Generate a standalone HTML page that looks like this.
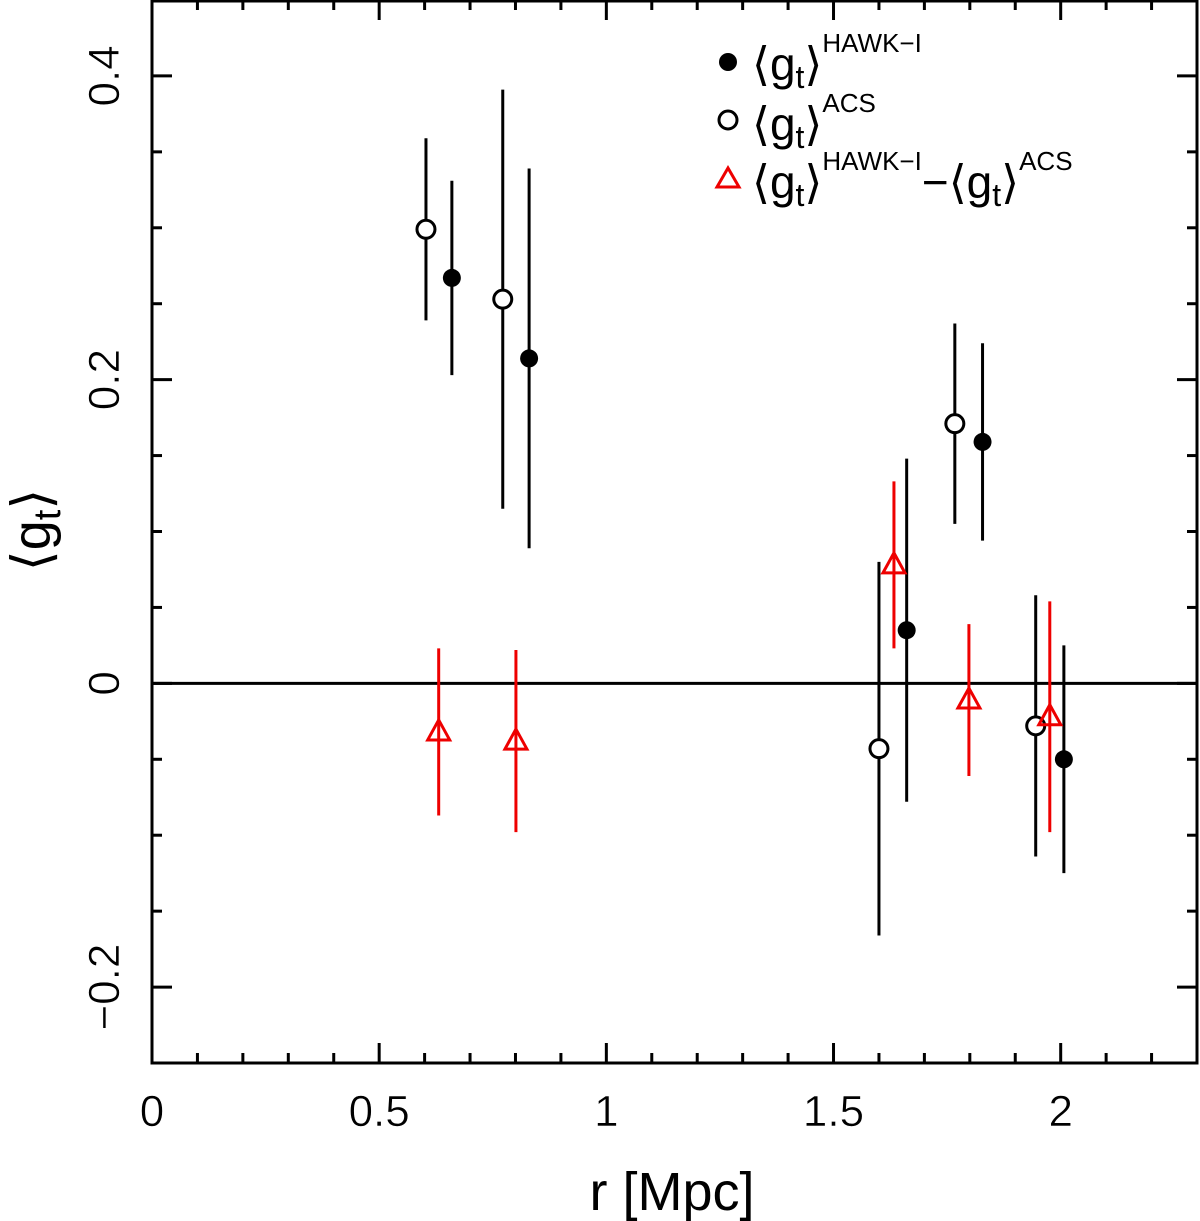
<!DOCTYPE html>
<html><head><meta charset="utf-8"><style>
html,body{margin:0;padding:0;background:#fff;}
svg{display:block;font-family:"Liberation Sans","DejaVu Sans",sans-serif;}
</style></head><body>
<svg id="chart" width="1200" height="1221" viewBox="0 0 1200 1221" xmlns="http://www.w3.org/2000/svg">
<g id="axes"></g>
<g id="marks"></g>
<g id="legend">
 <circle cx="728" cy="62" r="9" fill="#000"/>
 <text x="752" y="80" font-size="46">⟨g<tspan font-size="32" dy="8">t</tspan><tspan dy="-8">⟩</tspan><tspan font-size="26" dy="-28">HAWK−I</tspan></text>
 <circle cx="728" cy="120" r="9" fill="none" stroke="#000" stroke-width="3"/>
 <text x="752" y="140" font-size="46">⟨g<tspan font-size="32" dy="8">t</tspan><tspan dy="-8">⟩</tspan><tspan font-size="26" dy="-28">ACS</tspan></text>
 <polygon points="728,168 717,187 739,187" fill="none" stroke="#e00" stroke-width="3"/>
 <text x="752" y="198" font-size="46">⟨g<tspan font-size="32" dy="8">t</tspan><tspan dy="-8">⟩</tspan><tspan font-size="26" dy="-28">HAWK−I</tspan><tspan font-size="46" dy="28">−⟨g</tspan><tspan font-size="32" dy="8">t</tspan><tspan dy="-8">⟩</tspan><tspan font-size="26" dy="-28">ACS</tspan></text>
</g>
</svg>
<script>
const hawkR=[0.66,0.83,1.661,1.828,2.007];
const hawkG=[0.267,0.214,0.035,0.159,-0.050];
const hawkE=[0.064,0.125,0.113,0.065,0.075];
const acsR=[0.603,0.772,1.600,1.767,1.945];
const acsG=[0.299,0.253,-0.043,0.171,-0.028];
const acsE=[0.060,0.138,0.123,0.066,0.086];
const diffR=[0.631,0.801,1.633,1.798,1.976];
const diffG=[-0.032,-0.038,0.078,-0.011,-0.022];
const diffE=[0.055,0.060,0.055,0.050,0.076];
const xTicks=[0,0.5,1,1.5,2];
const xTickLabels=["0","0.5","1","1.5","2"];
const yTicks=[-0.2,0,0.2,0.4];
const yTickLabels=["−0.2","0","0.2","0.4"];

const L=152,R=1197,T=0,B=1063,xmin=0,xmax=2.3,ymin=-0.25,ymax=0.45;
const sx=v=>L+(v-xmin)/(xmax-xmin)*(R-L);
const sy=v=>B-(v-ymin)/(ymax-ymin)*(B-T);
const NS="http://www.w3.org/2000/svg";
function mk(parent,tag,attrs){const e=document.createElementNS(NS,tag);for(const k in attrs)e.setAttribute(k,attrs[k]);parent.appendChild(e);return e;}
const ax=document.getElementById('axes'), mg=document.getElementById('marks');

let fr=mk(ax,'rect',{x:L,y:T+1,width:R-L,height:B-T-1,fill:'none',stroke:'#000','stroke-width':3});


for(let i=0;i<=23;i++){const v=i/10,x=sx(v),len=(i%5===0)?20:10;
 mk(ax,'line',{x1:x,x2:x,y1:B,y2:B-len,stroke:'#000','stroke-width':3});
 mk(ax,'line',{x1:x,x2:x,y1:T,y2:T+len,stroke:'#000','stroke-width':3});}
for(let i=-5;i<=9;i++){const v=i*0.05,y=sy(v),len=(i%4===0)?20:10;
 mk(ax,'line',{x1:L,x2:L+len,y1:y,y2:y,stroke:'#000','stroke-width':3});
 mk(ax,'line',{x1:R,x2:R-len,y1:y,y2:y,stroke:'#000','stroke-width':3});}
xTicks.forEach((v,i)=>{const t=mk(ax,'text',{x:sx(v),y:1126,'font-size':44,'text-anchor':'middle',stroke:'#fff','stroke-width':0.6});t.textContent=xTickLabels[i];
 
 });
yTicks.forEach((v,i)=>{const t=mk(ax,'text',{x:0,y:0,'font-size':44,'text-anchor':'middle',stroke:'#fff','stroke-width':0.6,transform:`translate(119,${sy(v)}) rotate(-90)`});t.textContent=yTickLabels[i];
 
 });
let xt=mk(ax,'text',{x:672,y:1210,'font-size':54,'text-anchor':'middle','xml:space':'preserve'});xt.textContent='r  [Mpc]';


let yt=mk(ax,'text',{x:0,y:0,'font-size':54,'text-anchor':'middle',transform:'translate(50,530) rotate(-90)'});
yt.innerHTML='⟨g<tspan font-size="38" dy="10">t</tspan><tspan dy="-10">⟩</tspan>';


let zl=mk(ax,'line',{x1:L,x2:R,y1:sy(0),y2:sy(0),stroke:'#000','stroke-width':3});



function series(rs,gs,es,col,kind,name){
 rs.forEach((r,i)=>{const x=sx(r),y=sy(gs[i]);
  const eb=mk(mg,'line',{x1:x,x2:x,y1:sy(gs[i]+es[i]),y2:sy(gs[i]-es[i]),stroke:col,'stroke-width':3});
  
  
  let m;
  if(kind==='filled')m=mk(mg,'circle',{cx:x,cy:y,r:9,fill:col});
  else if(kind==='open')m=mk(mg,'circle',{cx:x,cy:y,r:9,fill:'#fff',stroke:col,'stroke-width':3});
  else m=mk(mg,'polygon',{points:`${x},${y-12} ${x-11},${y+8} ${x+11},${y+8}`,fill:'none',stroke:col,'stroke-width':3});
  
  
 });}
series(acsR,acsG,acsE,'#000','open','acs');
series(hawkR,hawkG,hawkE,'#000','filled','hawki');
series(diffR,diffG,diffE,'#e00','tri','difference');
</script>
</body></html>
